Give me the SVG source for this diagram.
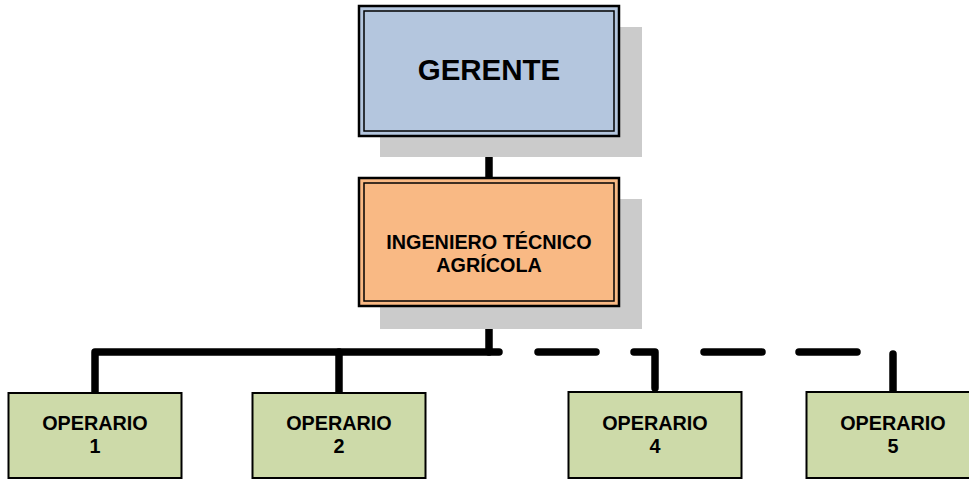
<svg xmlns="http://www.w3.org/2000/svg" width="969" height="479" viewBox="0 0 969 479">
<style>
.shadow{fill:#cbcbcb}
.outer{stroke:#000;stroke-width:2.5;}
.inner{fill:none;stroke:#000;stroke-width:1.5}
.op{fill:#cddaa9;stroke:#000;stroke-width:2}
.t{font-family:"Liberation Sans",Arial,sans-serif;font-weight:bold;fill:#000;text-anchor:middle}
.c{fill:none;stroke:#000;stroke-width:7.5;stroke-linecap:round;stroke-linejoin:round}
</style>
<rect width="969" height="479" fill="#fff"/>
<g id="connectors">
<path class="c" d="M489,136 V178"/>
<path class="c" d="M489,306 V352 H95 V392"/>
<path class="c" d="M339,352 V392"/>
<path class="c" d="M489,352 H499"/>
<path class="c" d="M538,352 H596"/>
<path class="c" d="M634,352 H655 V388"/>
<path class="c" d="M704,352 H762"/>
<path class="c" d="M799,352 H857"/>
<path class="c" d="M893,354 V393"/>
</g>
<g id="gerente">
<rect class="shadow" x="380" y="27" width="262" height="130"/>
<rect class="outer" x="359" y="6" width="260" height="130" fill="#b4c6de"/>
<rect class="inner" x="364" y="11" width="250" height="120"/>
<text class="t" x="489" y="80" font-size="29.5">GERENTE</text>
</g>
<g id="ingeniero">
<rect class="shadow" x="380" y="199" width="262" height="130"/>
<rect class="outer" x="359" y="178" width="260" height="128" fill="#f9b984"/>
<rect class="inner" x="364" y="183" width="250" height="118"/>
<text class="t" x="489" y="249" font-size="19.8">INGENIERO TÉCNICO</text>
<text class="t" x="489" y="272" font-size="19.8">AGRÍCOLA</text>
</g>
<g id="op1">
<rect class="op" x="8.5" y="393" width="173" height="85"/>
<text class="t" x="95" y="430" font-size="19.8">OPERARIO</text>
<text class="t" x="95" y="453" font-size="19.8">1</text>
</g>
<g id="op2">
<rect class="op" x="252.5" y="393" width="173" height="85"/>
<text class="t" x="339" y="430" font-size="19.8">OPERARIO</text>
<text class="t" x="339" y="453" font-size="19.8">2</text>
</g>
<g id="op4">
<rect class="op" x="568.5" y="392" width="173" height="86"/>
<text class="t" x="655" y="430" font-size="19.8">OPERARIO</text>
<text class="t" x="655" y="453" font-size="19.8">4</text>
</g>
<g id="op5">
<rect class="op" x="806.5" y="392" width="173" height="86"/>
<text class="t" x="893" y="430" font-size="19.8">OPERARIO</text>
<text class="t" x="893" y="453" font-size="19.8">5</text>
</g>
</svg>
